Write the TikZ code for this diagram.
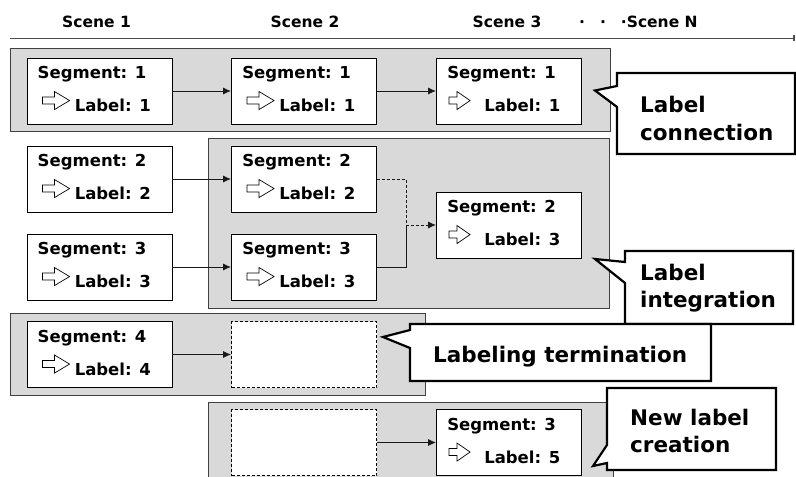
\documentclass[tikz,border=0pt]{standalone}
\usepackage{fontspec}
\setmainfont{DejaVu Sans}
\usetikzlibrary{calc,arrows.meta}

\definecolor{panelgray}{RGB}{217,217,217}

% Segment box with its two lines of text and the hollow block-arrow icon.
% #1 name, #2 centre, #3 segment no., #4 label no.,
% #5 icon left offset, #6 icon shaft length, #7 icon head length
\newcommand\segbox[7]{%
  \node[segbox] (#1) at (#2) {};
  \node[boxtext, anchor=base west] (#1-s) at ($(#1.north west)+(11,21)$) {Segment: #3};
  \node[boxtext, anchor=base west] (#1-l) at ($(#1.north west)+(48,54)$) {Label: #4};
  \coordinate (#1-i) at ($(#1.north west)+(#5,43)$);
  \draw[iconarrow] ($(#1-i)+(0,-3.5)$) -- ++(#6,0) -- ++(0,-5.5) -- ++(#7,9)
    -- ++(-#7,9) -- ++(0,-5.5) -- ++(-#6,0) -- cycle;
}

\begin{document}
\begin{tikzpicture}[x=1pt,y=-1pt,
  panel/.style={fill=panelgray, draw=black!75, line width=0.9pt},
  segbox/.style={draw=black, line width=0.9pt, fill=white,
    minimum width=145pt, minimum height=66pt, inner sep=0pt},
  emptybox/.style={segbox, dash pattern=on 3pt off 2pt},
  boxtext/.style={inner sep=0pt, font=\bfseries\fontsize{16.5}{18}\selectfont},
  headtext/.style={inner sep=0pt, anchor=base, font=\bfseries\fontsize{15.5}{18}\selectfont},
  calltext/.style={inner sep=0pt, anchor=base west, font=\bfseries\fontsize{21.5}{28}\selectfont},
  callout/.style={draw=black, line width=2.2pt, fill=white, line join=miter},
  iconarrow/.style={draw=black, line width=0.7pt, fill=white, line join=miter},
  tip/.style={-{Latex[length=8pt,width=7pt]}},
  conn/.style={draw=black!90, line width=0.9pt, tip},
  dconn/.style={draw=black!90, line width=0.9pt, dash pattern=on 3pt off 2pt},
  dot/.style={fill=black, inner sep=0pt, minimum size=3pt, circle},
]
\clip (0,0) rectangle (796,477);
\fill[white] (0,0) rectangle (796,477);

% time axis
\node[headtext] (h1) at (96.5,27) {Scene 1};
\node[headtext] (h2) at (305,27) {Scene 2};
\node[headtext] (h3) at (507,27) {Scene 3};
\node[headtext, anchor=base west] (hN) at (579,27) {·\hspace{15pt}·\hspace{15pt}·Scene N};
\coordinate (axs) at (10,38);
\coordinate (axe) at (795,38);
\draw[black!70, line width=1pt, -{Rectangle[length=2pt,width=6pt]}] (axs) -- (axe);

% grey panels
\draw[panel] (10,48) rectangle (610,131);
\draw[panel] (208,138) rectangle (609,308);
\draw[panel] (10,313) rectangle (425,395);
\draw[panel] (208,402) rectangle (613,490);

% label connection
\segbox{a1}{99.5,91}{1}{1}{16}{12}{15}
\segbox{b1}{304,91}{1}{1}{16}{12}{15}
\segbox{c1}{509,91}{1}{1}{13}{8}{13}
\draw[conn] (a1) -- (b1);
\draw[conn] (b1) -- (c1);

% label integration
\segbox{a2}{99.5,179}{2}{2}{16}{12}{15}
\segbox{a3}{99.5,267}{3}{3}{16}{12}{15}
\segbox{b2}{304,179}{2}{2}{16}{12}{15}
\segbox{b3}{304,267}{3}{3}{16}{12}{15}
\segbox{m}{509,225}{2}{3}{13}{8}{13}
\draw[conn] (a2) -- (b2);
\draw[conn] (a3) -- (b3);
\coordinate (mj) at (406,225);
\draw[dconn] (b2.east) -| (mj);
\draw[draw=black!90, line width=0.9pt] (b3.east) -| (mj);
\draw[dconn, tip] (mj) -- (m.west);

% labeling termination
\segbox{a4}{99.5,354.5}{4}{4}{16}{12}{15}
\node[emptybox] (b4) at (304,354.5) {};
\draw[conn] (a4) -- (b4);

% new label creation
\node[emptybox] (b5) at (304,442.5) {};
\segbox{c5}{509,442.5}{3}{5}{13}{8}{13}
\draw[conn] (b5) -- (c5);

% speech-bubble callouts
\draw[callout] (617,73) -- (617,86) -- (595,90.5) -- (617,107) -- (617,154)
  -- (795,154) -- (795,73) -- cycle;
\node[calltext] (t1a) at (640,112) {Label};
\node[calltext] (t1b) at (640,140) {connection};

\draw[callout] (625,251) -- (625,262) -- (595,259) -- (625,283) -- (625,324)
  -- (793,324) -- (793,251) -- cycle;
\node[calltext] (t2a) at (640,280) {Label};
\node[calltext] (t2b) at (640,307) {integration};

\draw[callout] (410,324) -- (410,330) -- (383,337) -- (410,348) -- (410,381)
  -- (711,381) -- (711,324) -- cycle;
\node[calltext] (t3) at (433,362) {Labeling termination};

\draw[callout] (607,388) -- (607,445) -- (593,466) -- (607,463) -- (607,470)
  -- (776,470) -- (776,388) -- cycle;
\node[calltext] (t4a) at (630,425) {New label};
\node[calltext] (t4b) at (630,452) {creation};
\end{tikzpicture}
\end{document}
